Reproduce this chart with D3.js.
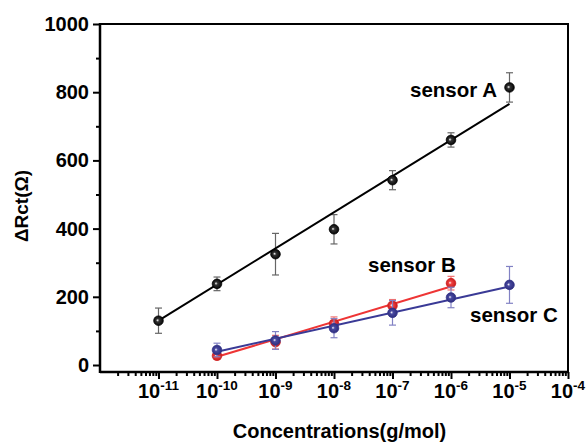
<!DOCTYPE html>
<html>
<head>
<meta charset="utf-8">
<script src="https://cdn.jsdelivr.net/npm/d3@7"></script>
<style>
  html, body { margin: 0; padding: 0; background: #fff; }
  svg { display: block; font-family: "Liberation Sans", Arial, sans-serif; font-weight: bold; }
</style>
</head>
<body>
<svg id="chart" width="587" height="442"></svg>
<script>
// ---- data ----
const concA = [1e-11, 1e-10, 1e-9, 1e-8, 1e-7, 1e-6, 1e-5];
const valA  = [130, 238, 325, 398, 542, 660, 814];
const errA  = [37, 20, 61, 43, 28, 21, 43];

const concB = [1e-10, 1e-9, 1e-8, 1e-7, 1e-6];
const valB  = [27, 67, 121, 174, 240];
const errB  = [10, 20, 20, 18, 20];

const concC = [1e-10, 1e-9, 1e-8, 1e-7, 1e-6, 1e-5];
const valC  = [44, 72, 108, 153, 198, 235];
const errC  = [20, 26, 28, 36, 30, 54];

// fitted lines (endpoints)
const fitA = [[1e-11, 130], [1e-5, 766]];
const fitB = [[1e-10, 24], [1e-6, 230]];
const fitC = [[1e-10, 39], [1e-5, 230]];

const seriesNames = ["sensor A", "sensor B", "sensor C"];
const xMajorTicks = [1e-11, 1e-10, 1e-9, 1e-8, 1e-7, 1e-6, 1e-5, 1e-4];
const xTickExp    = ["-11", "-10", "-9", "-8", "-7", "-6", "-5", "-4"];
const yMajorTicks = [0, 200, 400, 600, 800, 1000];
const yMinorTicks = [100, 300, 500, 700, 900];

const xTitle = "Concentrations(g/mol)";
const yTitle = "ΔRct(Ω)";

// ---- layout ----
const L = 100, R = 568, T = 24, B = 372;
const svg = d3.select("#chart");

const x = d3.scaleLog().domain([1e-12, 1e-4]).range([L, R]);
const y = d3.scaleLinear().domain([-20.5, 1000]).range([B, T]);

// gradients for sphere markers
const defs = svg.append("defs");
function sphere(id, base, dark) {
  const g = defs.append("radialGradient").attr("id", id)
    .attr("cx", "0.5").attr("cy", "0.5").attr("r", "0.55")
    .attr("fx", "0.38").attr("fy", "0.45");
  g.append("stop").attr("offset", "0").attr("stop-color", "#ffffff");
  g.append("stop").attr("offset", "0.3").attr("stop-color", base);
  g.append("stop").attr("offset", "1").attr("stop-color", dark);
}
sphere("gA", "#333", "#000");
sphere("gB", "#f04040", "#c01818");
sphere("gC", "#4848a0", "#2a2a78");

const series = [
  { name: seriesNames[0], conc: concA, val: valA, err: errA, fit: fitA,
    line: "#000000", errColor: "#666666", grad: "url(#gA)", stroke: "#000" },
  { name: seriesNames[1], conc: concB, val: valB, err: errB, fit: fitB,
    line: "#ee3535", errColor: "#f07070", grad: "url(#gB)", stroke: "#d02020" },
  { name: seriesNames[2], conc: concC, val: valC, err: errC, fit: fitC,
    line: "#3a3a96", errColor: "#8282c4", grad: "url(#gC)", stroke: "#33338a" }
];

// ---- axes ----
const minorX = [];
for (let e = -12; e < -4; e++) {
  for (let m = 2; m <= 9; m++) minorX.push(m * Math.pow(10, e));
}
const gx = svg.append("g").attr("transform", `translate(0,${B})`);
gx.call(d3.axisBottom(x).tickValues(xMajorTicks).tickSize(7).tickFormat(""));
gx.append("g").call(d3.axisBottom(x).tickValues(minorX).tickSize(4).tickFormat(""));
gx.selectAll(".domain").remove();
gx.selectAll("line").attr("stroke", "#000").attr("stroke-width", 2);

const gxl = svg.append("g");
xMajorTicks.forEach((t, i) => {
  const tx = gxl.append("text")
    .attr("x", x(t)).attr("y", 398)
    .attr("text-anchor", "middle")
    .attr("fill", "#000");
  tx.append("tspan").attr("font-size", 20).text("10");
  tx.append("tspan").attr("font-size", 13.5).attr("dy", -8.5).text(xTickExp[i]);
});

// left axis
const gy = svg.append("g").attr("transform", `translate(${L},0)`);
gy.call(d3.axisLeft(y).tickValues(yMajorTicks).tickSize(7).tickPadding(4)
  .tickFormat(d3.format("d")));
gy.append("g").call(d3.axisLeft(y).tickValues(yMinorTicks).tickSize(4).tickFormat(""));
gy.selectAll(".domain").remove();
gy.selectAll("line").attr("stroke", "#000").attr("stroke-width", 2);
gy.selectAll("text").attr("font-size", 20).attr("font-weight", "bold")
  .attr("fill", "#000").attr("font-family", "Liberation Sans, Arial, sans-serif");

// frame
svg.append("line").attr("x1", L).attr("x2", L).attr("y1", T - 1).attr("y2", B + 1)
  .attr("stroke", "#000").attr("stroke-width", 2.5);
svg.append("line").attr("x1", L).attr("x2", R + 1).attr("y1", B).attr("y2", B)
  .attr("stroke", "#000").attr("stroke-width", 2.5);
svg.append("line").attr("x1", L).attr("x2", R + 1).attr("y1", T).attr("y2", T)
  .attr("stroke", "#000").attr("stroke-width", 2);
svg.append("line").attr("x1", R).attr("x2", R).attr("y1", T).attr("y2", B)
  .attr("stroke", "#000").attr("stroke-width", 2);

// ---- series ----
const lineGen = d3.line().x(d => x(d[0])).y(d => y(d[1]));
series.forEach(s => {
  const g = svg.append("g");
  const pts = s.conc.map((c, i) => ({ c, v: s.val[i], e: s.err[i] }));
  pts.forEach(p => {
    const cx = x(p.c);
    g.append("line").attr("x1", cx).attr("x2", cx)
      .attr("y1", y(p.v - p.e)).attr("y2", y(p.v + p.e))
      .attr("stroke", s.errColor).attr("stroke-width", 1.2);
    [p.v - p.e, p.v + p.e].forEach(v => {
      g.append("line").attr("x1", cx - 3.5).attr("x2", cx + 3.5)
        .attr("y1", y(v)).attr("y2", y(v))
        .attr("stroke", s.errColor).attr("stroke-width", 1.2);
    });
  });
  g.append("path").datum(s.fit).attr("d", lineGen)
    .attr("fill", "none").attr("stroke", s.line).attr("stroke-width", 2);
  s.g = g; s.pts = pts;
});
series.forEach(s => {
  s.g.selectAll("circle").data(s.pts).join("circle")
    .attr("cx", d => x(d.c)).attr("cy", d => y(d.v)).attr("r", 4.8)
    .attr("fill", s.grad).attr("stroke", s.stroke).attr("stroke-width", 0.8);
});

// ---- annotations ----
const labelPos = [[410, 97], [368, 272], [470, 322]];
seriesNames.forEach((n, i) => {
  svg.append("text").attr("x", labelPos[i][0]).attr("y", labelPos[i][1])
    .attr("font-size", 20.5).attr("fill", "#000").text(n);
});

// ---- titles ----
svg.append("text").attr("x", 339.5).attr("y", 438)
  .attr("text-anchor", "middle").attr("font-size", 20).attr("fill", "#000")
  .text(xTitle);
svg.append("text")
  .attr("transform", "translate(28,206) rotate(-90)")
  .attr("text-anchor", "middle").attr("font-size", 19).attr("fill", "#000")
  .text(yTitle);
</script>
</body>
</html>
